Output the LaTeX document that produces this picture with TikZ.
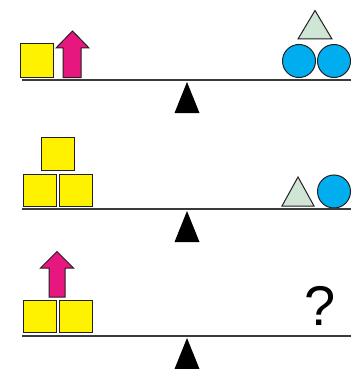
\documentclass[tikz,border=0pt]{standalone}
\usepackage{fontspec}
\setmainfont{Liberation Sans}
\definecolor{cyel}{HTML}{FFF200}
\definecolor{cpink}{HTML}{E6177F}
\definecolor{cblue}{HTML}{00AEEF}
\definecolor{cgreen}{HTML}{CFE5D6}
\definecolor{cbeam}{HTML}{3A3A3A}
\definecolor{cline}{HTML}{231F20}
\begin{document}
\begin{tikzpicture}[x=1pt,y=-1pt,
  beam/.style={draw=cbeam,line width=1.8pt},
  fulcrum/.style={fill=black},
  ybox/.style={draw=cline,line width=1pt,fill=cyel},
  parrow/.style={draw=cline,line width=1pt,fill=cpink,line join=miter},
  bball/.style={draw=cline,line width=1pt,fill=cblue},
  gtri/.style={draw=cline,line width=1pt,fill=cgreen,line join=miter}]
\useasboundingbox (0,0) rectangle (357,369);
% ---------- panel 1 ----------
\draw[ybox] (20.5,43.5) rectangle (53.5,77.5);
\draw[parrow] (63,77.5) -- (63,48) -- (56,48) -- (72.5,31) -- (89,48) -- (81,48) -- (81,77.5) -- cycle;
\draw[bball] (299,61) circle (16.5);
\draw[bball] (334,61) circle (16.5);
\draw[gtri] (315,10.5) -- (298,39) -- (332,39) -- cycle;
\draw[beam] (22,80) -- (351,80);
\fill[fulcrum] (187,82) -- (199.5,113) -- (174.5,113) -- cycle;
% ---------- panel 2 ----------
\draw[ybox] (23.5,174) rectangle (56,206);
\draw[ybox] (59,174) rectangle (92,206);
\draw[ybox] (41,137.5) rectangle (74,170);
\draw[gtri] (298,177) -- (282,206) -- (314,206) -- cycle;
\draw[bball] (334,191.5) circle (16.5);
\draw[beam] (22,209) -- (351,209);
\fill[fulcrum] (187,211) -- (199.5,242) -- (174.5,242) -- cycle;
% ---------- panel 3 ----------
\draw[ybox] (23.5,300.5) rectangle (56,332.5);
\draw[ybox] (59,300.5) rectangle (92,332.5);
\draw[parrow] (49,297) -- (49,268) -- (40.5,268) -- (57,251.5) -- (73.5,268) -- (65,268) -- (65,297) -- cycle;
\node[font=\fontsize{56}{56}\selectfont,inner sep=0pt,anchor=base] (q) at (320.5,325.5) {?};
\draw[beam] (22,336) -- (351,336);
\fill[fulcrum] (187,338) -- (199.5,369) -- (174.5,369) -- cycle;
\end{tikzpicture}
\end{document}
